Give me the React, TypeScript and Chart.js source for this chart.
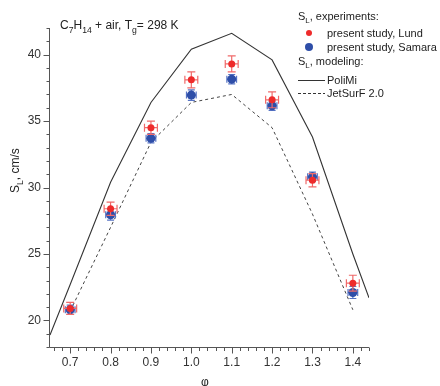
import React, { useEffect, useRef } from 'react';
import { Chart, registerables } from 'chart.js';

Chart.register(...registerables);

// ---- data ----
const phi = [0.7, 0.8, 0.9, 1.0, 1.1, 1.2, 1.3, 1.4];
const lund = [20.9, 28.4, 34.5, 38.1, 39.3, 36.6, 30.55, 22.8];
const samara = [20.8, 27.95, 33.7, 36.95, 38.15, 36.15, 30.8, 22.1];
const lundErrY = [0.45, 0.5, 0.5, 0.6, 0.6, 0.6, 0.5, 0.6];
const samaraErrY = [0.35, 0.4, 0.35, 0.4, 0.35, 0.35, 0.35, 0.45];
const lundErrX = [0.016, 0.016, 0.016, 0.016, 0.016, 0.016, 0.016, 0.016];
const samaraErrX = [0.012, 0.012, 0.012, 0.012, 0.012, 0.012, 0.012, 0.012];
const poliPhi = [0.65, 0.7, 0.8, 0.9, 1.0, 1.1, 1.2, 1.3, 1.4, 1.44];
const poliMi = [18.9, 22.7, 30.4, 36.4, 40.4, 41.6, 39.6, 33.8, 25.0, 21.7];
const jetPhi = [0.7, 0.8, 0.9, 1.0, 1.1, 1.2, 1.3, 1.4];
const jetSurf = [20.7, 27.0, 33.4, 36.4, 37.0, 34.5, 28.0, 20.8];
const xTickLabels = [0.7, 0.8, 0.9, 1.0, 1.1, 1.2, 1.3, 1.4];
const yTickLabels = [20, 25, 30, 35, 40];

const FONT = '"Liberation Sans", Arial, Helvetica, sans-serif';
const RED = '#ee2b2b';
const RED_ERR = '#f06a6a';
const BLUE = '#2e4ea8';
const BLUE_ERR = '#5673c4';
const AXIS = '#555555';
const TEXT = '#222222';

type Part = { t: string; sub?: boolean };

function drawRich(ctx: CanvasRenderingContext2D, parts: Part[], x: number, y: number, size: number) {
  let cx = x;
  for (const p of parts) {
    const fs = p.sub ? size * 0.72 : size;
    ctx.font = `${fs}px ${FONT}`;
    ctx.fillText(p.t, cx, p.sub ? y + size * 0.3 : y);
    cx += ctx.measureText(p.t).width;
  }
}

const errorBarPlugin = {
  id: 'errorBars',
  beforeDatasetDraw(chart: any, args: any) {
    const idx = args.index;
    if (idx !== 0 && idx !== 1) return;
    const ctx: CanvasRenderingContext2D = chart.ctx;
    const xs = chart.scales.x;
    const ys = chart.scales.y;
    const vals = idx === 0 ? lund : samara;
    const ey = idx === 0 ? lundErrY : samaraErrY;
    const ex = idx === 0 ? lundErrX : samaraErrX;
    const cap = idx === 0 ? 4 : 3.5;
    ctx.save();
    ctx.strokeStyle = idx === 0 ? RED_ERR : BLUE_ERR;
    ctx.lineWidth = 1.2;
    for (let i = 0; i < phi.length; i++) {
      const px = xs.getPixelForValue(phi[i]);
      const py = ys.getPixelForValue(vals[i]);
      const y1 = ys.getPixelForValue(vals[i] + ey[i]);
      const y2 = ys.getPixelForValue(vals[i] - ey[i]);
      const x1 = xs.getPixelForValue(phi[i] - ex[i]);
      const x2 = xs.getPixelForValue(phi[i] + ex[i]);
      ctx.beginPath();
      ctx.moveTo(px, y1); ctx.lineTo(px, y2);
      ctx.moveTo(px - cap, y1); ctx.lineTo(px + cap, y1);
      ctx.moveTo(px - cap, y2); ctx.lineTo(px + cap, y2);
      ctx.moveTo(x1, py); ctx.lineTo(x2, py);
      ctx.moveTo(x1, py - cap); ctx.lineTo(x1, py + cap);
      ctx.moveTo(x2, py - cap); ctx.lineTo(x2, py + cap);
      ctx.stroke();
    }
    ctx.restore();
  },
};

const axesPlugin = {
  id: 'axesTicks',
  afterDraw(chart: any) {
    const ctx: CanvasRenderingContext2D = chart.ctx;
    const { left, right, top, bottom } = chart.chartArea;
    const xs = chart.scales.x;
    const ys = chart.scales.y;
    const L = Math.round(left) - 0.5;
    const B = Math.round(bottom) + 0.5;
    ctx.save();
    ctx.strokeStyle = AXIS;
    ctx.lineWidth = 1;
    ctx.beginPath();
    ctx.moveTo(L, top);
    ctx.lineTo(L, B);
    ctx.lineTo(right, B);
    ctx.stroke();
    ctx.beginPath();
    for (const t of ys.ticks) {
      const major = yTickLabels.some((v) => Math.abs(v - t.value) < 1e-6);
      const p = Math.round(ys.getPixelForValue(t.value)) + 0.5;
      ctx.moveTo(L, p);
      ctx.lineTo(L - (major ? 6 : 3), p);
    }
    for (const t of xs.ticks) {
      const major = xTickLabels.some((v) => Math.abs(v - t.value) < 1e-6);
      const p = Math.round(xs.getPixelForValue(t.value)) + 0.5;
      ctx.moveTo(p, B);
      ctx.lineTo(p, B + (major ? 6 : 3.5));
    }
    ctx.stroke();

    // texts
    ctx.fillStyle = TEXT;
    ctx.textBaseline = 'alphabetic';
    ctx.textAlign = 'left';
    drawRich(ctx, [{ t: 'C' }, { t: '7', sub: true }, { t: 'H' }, { t: '14', sub: true }, { t: ' + air, T' }, { t: 'g', sub: true }, { t: '= 298 K' }], 60, 29, 12);

    // legend
    const lx = 298;
    const tx = 327;
    drawRich(ctx, [{ t: 'S' }, { t: 'L', sub: true }, { t: ', experiments:' }], lx, 20, 11);
    ctx.fillStyle = RED;
    ctx.beginPath(); ctx.arc(309, 33, 3, 0, Math.PI * 2); ctx.fill();
    ctx.fillStyle = BLUE;
    ctx.beginPath(); ctx.arc(309, 47, 4, 0, Math.PI * 2); ctx.fill();
    ctx.fillStyle = TEXT;
    drawRich(ctx, [{ t: 'present study, Lund' }], tx, 37, 11);
    drawRich(ctx, [{ t: 'present study, Samara' }], tx, 51, 11);
    drawRich(ctx, [{ t: 'S' }, { t: 'L', sub: true }, { t: ', modeling:' }], lx, 65, 11);
    ctx.strokeStyle = '#333';
    ctx.lineWidth = 1;
    ctx.beginPath(); ctx.moveTo(lx, 80.5); ctx.lineTo(325, 80.5); ctx.stroke();
    ctx.setLineDash([3, 2]);
    ctx.beginPath(); ctx.moveTo(lx, 93.5); ctx.lineTo(325, 93.5); ctx.stroke();
    ctx.setLineDash([]);
    drawRich(ctx, [{ t: 'PoliMi' }], tx, 84, 11);
    drawRich(ctx, [{ t: 'JetSurF 2.0' }], tx, 97, 11);

    // x title
    ctx.font = `12px ${FONT}`;
    ctx.textAlign = 'center';
    ctx.fillText('φ', 205, 386);

    // y title
    ctx.save();
    ctx.translate(19, 193);
    ctx.rotate(-Math.PI / 2);
    ctx.textAlign = 'left';
    drawRich(ctx, [{ t: 'S' }, { t: 'L', sub: true }, { t: ', cm/s' }], 0, 0, 12);
    ctx.restore();
    ctx.restore();
  },
};

export default function App() {
  const ref = useRef<HTMLCanvasElement | null>(null);
  useEffect(() => {
    document.body.style.margin = '0';
    const canvas = ref.current;
    if (!canvas) return;
    const chart = new Chart(canvas, {
      type: 'line',
      data: {
        datasets: [
          {
            label: 'present study, Lund',
            data: phi.map((x, i) => ({ x, y: lund[i] })),
            showLine: false,
            pointRadius: 3.5,
            pointBackgroundColor: RED,
            pointBorderColor: RED,
            pointBorderWidth: 0,
            backgroundColor: RED,
            borderColor: RED,
          },
          {
            label: 'present study, Samara',
            data: phi.map((x, i) => ({ x, y: samara[i] })),
            showLine: false,
            pointRadius: 4.5,
            pointBackgroundColor: BLUE,
            pointBorderColor: BLUE,
            pointBorderWidth: 0,
            backgroundColor: BLUE,
            borderColor: BLUE,
          },
          {
            label: 'PoliMi',
            data: poliPhi.map((x, i) => ({ x, y: poliMi[i] })),
            borderColor: '#333333',
            borderWidth: 1.1,
            pointRadius: 0,
            tension: 0,
            fill: false,
          },
          {
            label: 'JetSurF 2.0',
            data: jetPhi.map((x, i) => ({ x, y: jetSurf[i] })),
            borderColor: '#444444',
            borderWidth: 1,
            borderDash: [3, 3],
            pointRadius: 0,
            tension: 0,
            fill: false,
          },
        ],
      },
      options: {
        animation: false,
        responsive: false,
        devicePixelRatio: 1,
        layout: { padding: { top: 28, right: 71, left: 0, bottom: 0 } },
        plugins: { legend: { display: false }, tooltip: { enabled: false }, title: { display: false } },
        scales: {
          x: {
            type: 'linear',
            min: 0.65,
            max: 1.44,
            afterBuildTicks: (scale: any) => {
              const ticks = [];
              for (let i = 0; i <= 39; i++) ticks.push({ value: Math.round((0.66 + 0.02 * i) * 100) / 100 });
              scale.ticks = ticks;
            },
            afterFit: (scale: any) => { scale.height = 39; },
            grid: { display: false, drawTicks: false },
            border: { display: false },
            ticks: {
              autoSkip: false,
              maxRotation: 0,
              padding: 8,
              color: '#333',
              font: { size: 12, family: FONT },
              callback: (v: any) => {
                const m = xTickLabels.find((t) => Math.abs(t - Number(v)) < 1e-6);
                return m !== undefined ? m.toFixed(1) : '';
              },
            },
          },
          y: {
            type: 'linear',
            min: 18,
            max: 42,
            afterBuildTicks: (scale: any) => {
              const ticks = [];
              for (let v = 18; v <= 42; v++) ticks.push({ value: v });
              scale.ticks = ticks;
            },
            afterFit: (scale: any) => { scale.width = 50; },
            grid: { display: false, drawTicks: false },
            border: { display: false },
            ticks: {
              autoSkip: false,
              padding: 9,
              color: '#333',
              font: { size: 12, family: FONT },
              callback: (v: any) => {
                const m = yTickLabels.find((t) => Math.abs(t - Number(v)) < 1e-6);
                return m !== undefined ? String(m) : '';
              },
            },
          },
        },
      },
      plugins: [errorBarPlugin, axesPlugin],
    } as any);
    return () => chart.destroy();
  }, []);
  return (
    <div style={{ width: 440, height: 386, position: 'relative', background: '#fff' }}>
      <canvas ref={ref} width={440} height={386} style={{ width: 440, height: 386, display: 'block' }} />
    </div>
  );
}
